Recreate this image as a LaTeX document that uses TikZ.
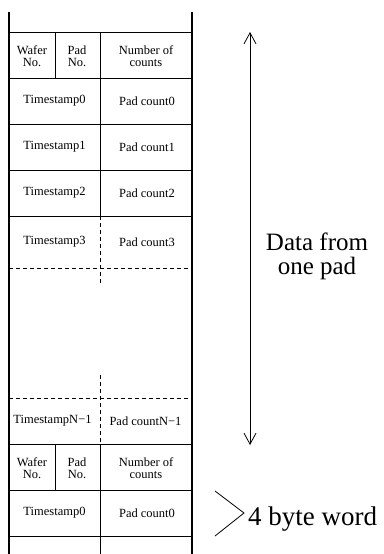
\documentclass[tikz,border=0pt]{standalone}
\usepackage{fontspec}
\setmainfont{Liberation Serif}
\usetikzlibrary{arrows.meta}

\begin{document}
\begin{tikzpicture}[x=1pt,y=-1pt,
		frame/.style={line width=2pt},
		rule/.style={line width=0.8pt},
		gap/.style={line width=0.8pt,dash pattern=on 4pt off 3pt},
		cell/.style={inner sep=0pt,align=center,font=\fontsize{12.5}{12}\selectfont},
		big/.style={inner sep=0pt,align=center,font=\fontsize{25}{24}\selectfont}]
			%%%%% START %%%%%
			\useasboundingbox (0,0) rectangle (383,554);
			
			% the two long sides of the buffer
			\draw[frame] (9,12) -- (9,554);
			\draw[frame] (192,12) -- (192,554);
			
			% word boundaries
			\draw[rule] (9,32) -- (192,32);
			\draw[rule] (9,78) -- (192,78);
			\draw[rule] (9,124) -- (192,124);
			\draw[rule] (9,170) -- (192,170);
			\draw[rule] (9,216) -- (192,216);
			\draw[gap] (9,268) -- (192,268);
			\draw[gap] (9,398) -- (192,398);
			\draw[rule] (9,444) -- (192,444);
			\draw[rule] (9,490) -- (192,490);
			\draw[rule] (9,536) -- (192,536);
			
			% half-word split
			\draw[rule] (100,32) -- (100,216);
			\draw[gap] (100,216) -- (100,284);
			\draw[gap] (100,375) -- (100,444);
			\draw[rule] (100,444) -- (100,554);
			
			% wafer / pad split in the header words
			\draw[rule] (55,32) -- (55,78);
			\draw[rule] (55,444) -- (55,490);
			
			% first pad block
			\node[cell] (wafer1) at (32,56) {Wafer\\No.};
			\node[cell] (pad1) at (77,56) {Pad\\No.};
			\node[cell] (num1) at (146,56) {Number of\\counts};
			\node[cell] (ts0) at (54.5,101) {Timestamp0};
			\node[cell] (pc0) at (147,101) {Pad count0};
			\node[cell] (ts1) at (54.5,147) {Timestamp1};
			\node[cell] (pc1) at (147,147) {Pad count1};
			\node[cell] (ts2) at (54.5,193) {Timestamp2};
			\node[cell] (pc2) at (147,193) {Pad count2};
			\node[cell] (ts3) at (54.5,242) {Timestamp3};
			\node[cell] (pc3) at (147,242) {Pad count3};
			\node[cell] (tsN) at (52.5,421) {TimestampN−1};
			\node[cell] (pcN) at (145.5,421) {Pad countN−1};
			
			% next pad block
			\node[cell] (wafer2) at (32,468) {Wafer\\No.};
			\node[cell] (pad2) at (77,468) {Pad\\No.};
			\node[cell] (num2) at (146,468) {Number of\\counts};
			\node[cell] (ts0b) at (54.5,513) {Timestamp0};
			\node[cell] (pc0b) at (147,513) {Pad count0};
			
			% extent of one pad
			\coordinate (padtop) at (250,32);
			\coordinate (padbot) at (250,445);
			\draw[line width=0.8pt,{Straight Barb[length=11pt,width=12pt]}-{Straight Barb[length=11pt,width=12pt]}] (padtop) -- (padbot);
			\node[big] (onepad) at (317,256) {Data from\\one pad};
			
			% one word
			\coordinate (wtop) at (215,491);
			\coordinate (wtip) at (244,513);
			\coordinate (wbot) at (215,536);
			\draw[line width=0.8pt] (wtop) -- (wtip) -- (wbot);
			\node[big,font=\fontsize{27}{27}\selectfont,anchor=base west] (word) at (248,525) {4 byte word};
			
			%%%%% END %%%%%
\end{tikzpicture}
\end{document}
